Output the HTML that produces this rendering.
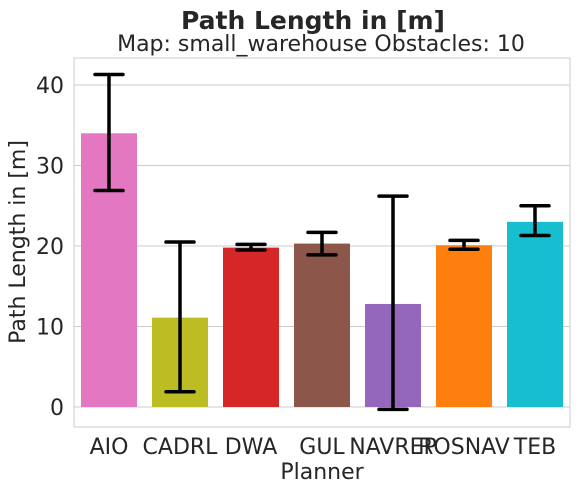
<!DOCTYPE html>
<html><head><meta charset="utf-8"><style>
body{margin:0;background:#fff;}
svg text{font-family:"DejaVu Sans","Liberation Sans",sans-serif;fill:#262626;}
</style></head><body>
<svg id="chart" width="579" height="492" viewBox="0 0 579 492">
<text x="313" y="29" text-anchor="middle" font-size="25" font-weight="bold">Path Length in [m]</text>
<text x="321" y="51" text-anchor="middle" font-size="22">Map: small_warehouse Obstacles: 10</text>
<g id="grid"></g>
<rect x="74" y="58" width="496" height="369" fill="none" stroke="#cccccc" stroke-width="1"/>
<g id="bars"></g>
<g id="errs"></g>
<g id="ticks"></g>
<text x="322" y="479" text-anchor="middle" font-size="22">Planner</text>
<text transform="translate(25,242) rotate(-90)" text-anchor="middle" font-size="22">Path Length in [m]</text>
</svg>
<script>
const categories=["AIO","CADRL","DWA","GUL","NAVREP","ROSNAV","TEB"];
const values=[34.0,11.1,19.8,20.3,12.8,20.1,23.0];
const errLow=[26.9,1.9,19.5,18.9,-0.3,19.6,21.3];
const errHigh=[41.3,20.5,20.2,21.7,26.2,20.7,25.0];
const colors=["#e377c2","#bcbd22","#d62728","#8c564b","#9467bd","#ff7f0e","#17becf"];
const yTicks=[0,10,20,30,40];
const NS="http://www.w3.org/2000/svg";
const y=v=>407-v*8.05;
const x=i=>109+i*71;
const bw=56;
function mk(t,a,p){const e=document.createElementNS(NS,t);for(const k in a)e.setAttribute(k,a[k]);p.appendChild(e);return e;}
const g=document.getElementById('grid'),tk=document.getElementById('ticks');
yTicks.forEach(v=>{
 const l=mk('line',{x1:74,x2:570,y1:y(v),y2:y(v),stroke:'#cccccc','stroke-width':1},g);
 
 
 const t=mk('text',{x:64,y:y(v)+8,'text-anchor':'end','font-size':22},tk);
 t.textContent=v;
 
 
});
const bg=document.getElementById('bars'),eg=document.getElementById('errs');
categories.forEach((c,i)=>{
 const top=Math.min(y(values[i]),y(0)),h=Math.abs(y(0)-y(values[i]));
 const r=mk('rect',{x:x(i)-bw/2,y:top,width:bw,height:h,fill:colors[i]},bg);
 
 
 const e=mk('path',{d:`M${x(i)},${y(errLow[i])}V${y(errHigh[i])}M${x(i)-14},${y(errLow[i])}H${x(i)+14}M${x(i)-14},${y(errHigh[i])}H${x(i)+14}`,stroke:'#000','stroke-width':3.5,fill:'none','stroke-linecap':'round'},eg);
 
 
 const t=mk('text',{x:x(i),y:454,'text-anchor':'middle','font-size':22},tk);
 t.textContent=c;
 
 
});
</script>
</body></html>
